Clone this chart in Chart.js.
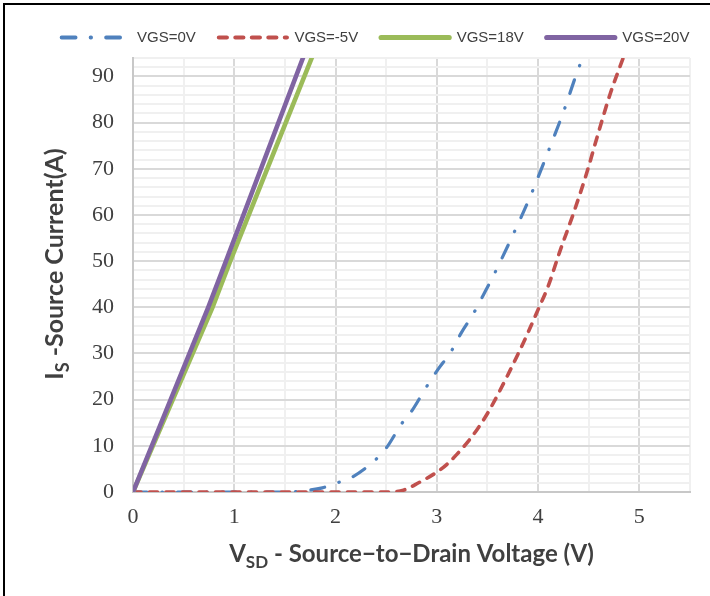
<!DOCTYPE html>
<html>
<head>
<meta charset="utf-8">
<script src="https://cdn.jsdelivr.net/npm/chart.js@4/dist/chart.umd.min.js"></script>
<style>
  body { margin: 0; overflow: hidden; background: #fff; }
  #frame { position: absolute; left: 3px; top: 3px; width: 780px; height: 640px; border: 2px solid #000; }
  #chart { display: block; }
</style>
</head>
<body>
<div id="frame"><canvas id="chart" width="741" height="600"></canvas></div>
<script>
// source current vs source-to-drain voltage, one curve per gate bias
const seriesNames = ['VGS=0V', 'VGS=-5V', 'VGS=18V', 'VGS=20V'];

const vsd0 = [0, 0.5, 1.0, 1.5, 1.7, 1.87, 2.02, 2.17, 2.39, 2.5, 2.65, 2.76, 2.89, 3.01, 3.14, 3.24, 3.36, 3.47, 3.56, 3.75, 3.93, 4.09, 4.25, 4.39, 4.44];
const is0 = [0, 0, 0, 0, 0.3, 0.9, 2.0, 3.3, 6.9, 9.5, 14.7, 17.8, 22.5, 26.5, 30.4, 34.4, 38.6, 43.1, 46.9, 55.6, 64.4, 73.2, 82.3, 91.2, 94];

const vsdN5 = [0, 0.5, 1.0, 1.5, 2.0, 2.5, 2.67, 2.82, 3.0, 3.1, 3.2, 3.3, 3.4, 3.5, 3.6, 3.7, 3.8, 3.9, 4.0, 4.1, 4.21, 4.35, 4.48, 4.59, 4.71, 4.84];
const isN5 = [0, 0, 0, 0, 0, 0, 0.4, 2.0, 4.3, 6.0, 8.2, 10.7, 13.6, 17.0, 21.0, 25.3, 29.8, 34.5, 39.5, 44.6, 51.8, 60.4, 69.1, 77.4, 86.1, 94];

const vsd18 = [0, 0.785, 0.96, 1.765];
const is18 = [0, 40, 50, 94];

const vsd20 = [0, 0.743, 0.918, 1.678];
const is20 = [0, 40, 50, 94];

const xMajorTicks = [0, 1, 2, 3, 4, 5];
const yMajorTicks = [0, 10, 20, 30, 40, 50, 60, 70, 80, 90];

const xTitle = [['V', false], ['SD', true], [' - Source\u2212to\u2212Drain Voltage (V)', false]];
const yTitle = [['I', false], ['S', true], [' -Source Current(A)', false]];

const toPoints = (xs, ys) => xs.map((x, i) => ({ x: x, y: ys[i] }));

const majorGrid = '#d9d9d9';
const minorGrid = '#f0f0f0';
const inkColor = '#404040';

const tickFont = { family: 'Liberation Serif', size: 22 };

// rich text with subscripts, used for both axis titles
function drawRich(ctx, parts, cx, y, size) {
    const mainFont = 'bold ' + size + 'px Lato';
    const subFont = 'bold ' + Math.round(size * 0.7) + 'px Lato';
    let total = 0;
    parts.forEach(p => {
        ctx.font = p[1] ? subFont : mainFont;
        total += ctx.measureText(p[0]).width;
    });
    let x = cx - total / 2;
    parts.forEach(p => {
        ctx.font = p[1] ? subFont : mainFont;
        ctx.fillText(p[0], x, p[1] ? y + size * 0.25 : y);
        x += ctx.measureText(p[0]).width;
    });
}

const axisTitles = {
    id: 'axisTitles',
    beforeInit(chart) {
        // a bit more room between the legend and the plot
        const fit = chart.legend.fit;
        chart.legend.fit = function () {
            fit.call(this);
            this.height += 3;
        };
    },
    afterDraw(chart) {
        const { ctx, chartArea } = chart;
        ctx.save();
        ctx.fillStyle = inkColor;
        ctx.textAlign = 'left';
        ctx.textBaseline = 'alphabetic';
        drawRich(ctx, xTitle, (chartArea.left + chartArea.right) / 2, 557, 24);
        ctx.translate(58, 259);
        ctx.rotate(-Math.PI / 2);
        drawRich(ctx, yTitle, 0, 0, 25);
        ctx.restore();
    }
};

const data = {
    datasets: [{
        label: seriesNames[0],
        data: toPoints(vsd0, is0),
        borderColor: '#4F81BD',
        backgroundColor: '#4F81BD',
        borderWidth: 3.2,
        borderDash: [14, 15, 0.5, 15],
        borderCapStyle: 'round',
        cubicInterpolationMode: 'monotone',
        order: 3,
    }, {
        label: seriesNames[1],
        data: toPoints(vsdN5, isN5),
        borderColor: '#C0504D',
        backgroundColor: '#C0504D',
        borderWidth: 3.6,
        borderDash: [8, 8.5],
        borderCapStyle: 'round',
        cubicInterpolationMode: 'monotone',
        order: 2,
    }, {
        label: seriesNames[2],
        data: toPoints(vsd18, is18),
        borderColor: '#9BBB59',
        backgroundColor: '#9BBB59',
        borderWidth: 4.6,
        borderCapStyle: 'round',
        tension: 0,
        order: 1,
    }, {
        label: seriesNames[3],
        data: toPoints(vsd20, is20),
        borderColor: '#8064A2',
        backgroundColor: '#8064A2',
        borderWidth: 4.6,
        borderCapStyle: 'round',
        tension: 0,
        order: 0,
    }]
};

const chart = new Chart(document.getElementById('chart'), {
    type: 'line',
    data: data,
    options: {
        responsive: false,
        animation: false,
        devicePixelRatio: 1,
        elements: { point: { radius: 0 } },
        layout: { padding: { left: 0, right: 0, top: 2, bottom: 0 } },
        scales: {
            x: {
                type: 'linear',
                min: 0,
                max: 5.5,
                afterFit(scale) { scale.height = 113; },
                ticks: {
                    stepSize: 0.5,
                    autoSkip: false,
                    maxRotation: 0,
                    padding: 12,
                    color: inkColor,
                    font: tickFont,
                    callback: v => xMajorTicks.includes(v) ? String(v) : '',
                },
                grid: {
                    drawTicks: false,
                    lineWidth: 2,
                    color: c => xMajorTicks.includes(c.tick.value) ? majorGrid : minorGrid,
                },
                border: { color: '#c8c8c8', width: 2 },
            },
            y: {
                min: 0,
                max: 94,
                afterFit(scale) { scale.width = 128; },
                ticks: {
                    stepSize: 2,
                    autoSkip: false,
                    padding: 19,
                    color: inkColor,
                    font: tickFont,
                    callback: v => yMajorTicks.includes(v) ? String(v) : '',
                },
                grid: {
                    drawTicks: false,
                    lineWidth: 2,
                    color: c => yMajorTicks.includes(c.tick.value) ? majorGrid : minorGrid,
                },
                border: { color: '#c8c8c8', width: 2 },
            },
            // empty strip on the right so the legend sits centred over the frame
            side: {
                position: 'right',
                afterFit(scale) { scale.width = 56; },
                ticks: { display: false },
                grid: { display: false },
                border: { display: false },
            },
        },
        plugins: {
            tooltip: { enabled: false },
            legend: {
                position: 'top',
                labels: {
                    usePointStyle: true,
                    pointStyle: 'line',
                    pointStyleWidth: 68,
                    padding: 23,
                    color: inkColor,
                    font: { family: 'Liberation Sans', size: 15 },
                    sort: (a, b) => a.datasetIndex - b.datasetIndex,
                    generateLabels(chart) {
                        const items = Chart.defaults.plugins.legend.labels.generateLabels(chart);
                        items.forEach(item => {
                            const ds = chart.data.datasets[item.datasetIndex];
                            item.lineDash = ds.borderDash || [];
                            item.lineWidth = ds.borderWidth + 0.6;
                            item.lineCap = 'round';
                        });
                        return items;
                    },
                },
            },
        },
    },
    plugins: [axisTitles],
});
</script>
</body>
</html>
